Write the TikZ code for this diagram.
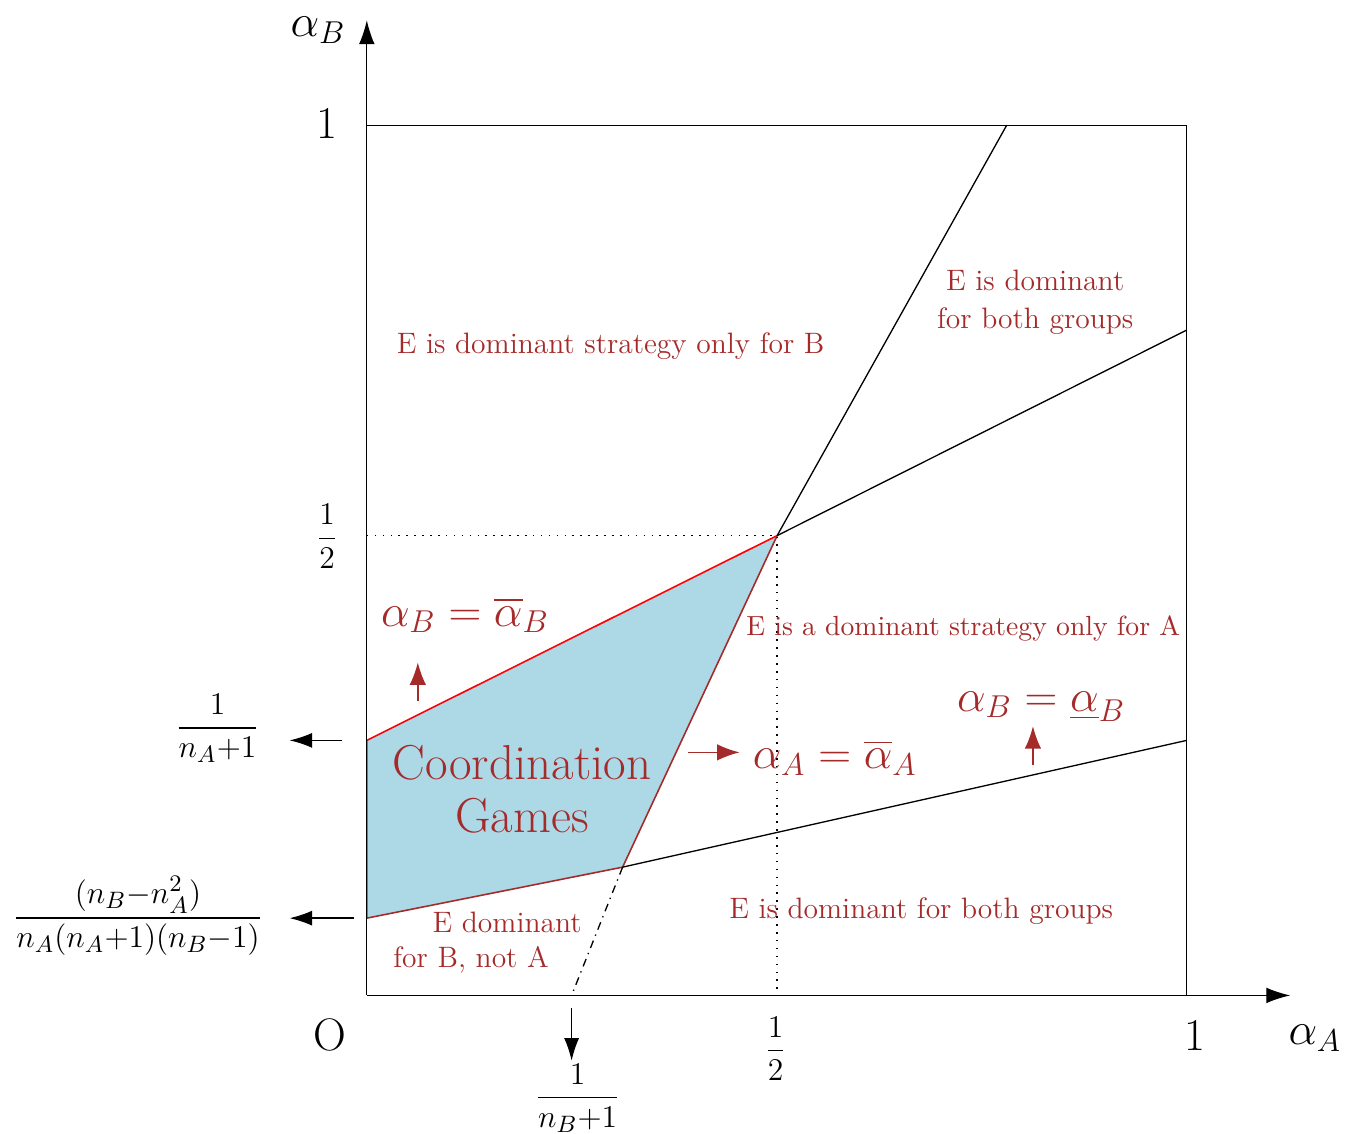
\documentclass[tikz,border=0pt]{standalone}
\usepackage{amsmath,amssymb}
\usetikzlibrary{arrows.meta}
\definecolor{cgR}{RGB}{165,42,42}
\definecolor{cgF}{RGB}{173,216,230}

\begin{document}
\begin{tikzpicture}[
    ln/.style={draw=black, line width=0.5pt},
    ax/.style={draw=black, line width=0.5pt, -{Latex[length=3.2mm,width=2.1mm]}},
    tip/.style={draw=black, line width=0.5pt, -{Latex[length=3mm,width=2mm]}},
    rtip/.style={draw=cgR, line width=0.6pt, -{Latex[length=3mm,width=2.2mm]}},
    guide/.style={draw=black, line width=0.6pt, dash pattern=on 0.6pt off 2.4pt},
    dd/.style={draw=black, line width=0.5pt, dash dot},
    big/.style={font=\LARGE},
    frc/.style={font=\fontsize{12.7}{15}\selectfont},
    reg/.style={text=cgR, font=\fontsize{11.2}{14.2}\selectfont, align=center},
    eqn/.style={text=cgR, font=\LARGE},
  ]
  \useasboundingbox (-4.89,-1.84) rectangle (13.04,13.27);

  % corner points of the regions
  \coordinate (O)  at (0,0);
  \coordinate (M)  at (5.47,6.13);
  \coordinate (My) at (0,6.13);
  \coordinate (Mx) at (5.47,0);
  \coordinate (T)  at (8.53,11.6);
  \coordinate (R)  at (10.93,8.87);
  \coordinate (P1) at (0,3.40);
  \coordinate (P2) at (0,1.03);
  \coordinate (Q)  at (3.41,1.71);
  \coordinate (R2) at (10.93,3.40);
  \coordinate (X1) at (2.73,0);
  \coordinate (TL) at (0,11.6);
  \coordinate (TR) at (10.93,11.6);
  \coordinate (BR) at (10.93,0);
  \coordinate (xend) at (12.31,0);
  \coordinate (yend) at (0,13.0);

  %% coordination region
  \fill[cgF] (P1) -- (M) -- (Q) -- (P2) -- cycle;
  \draw[red, line width=0.6pt] (P1) -- (M);
  \draw[cgR, line width=0.6pt] (M) -- (Q) -- (P2) -- (P1);

  %% guides, box, borders
  \draw[guide] (My) -- (M) -- (Mx);
  \draw[ln] (TL) -- (TR) -- (BR);
  \draw[ln] (M) -- (T);
  \draw[ln] (M) -- (R);
  \draw[ln] (Q) -- (R2);
  \draw[dd] (Q) -- (X1);

  %% axes
  \draw[ax] (O) -- (xend);
  \draw[ax] (O) -- (yend);

  %% axis labels
  \node[big] (aB) at (-0.65,12.87) {$\alpha_B$};
  \node[big] (aA) at (12.64,-0.57) {$\alpha_A$};
  \node[big] (one1) at (-0.53,11.63) {1};
  \node[big] (one2) at (11.04,-0.53) {1};
  \node[big] (orig) at (-0.49,-0.53) {O};
  \node[frc] (hy) at (-0.53,6.12) {$\dfrac{1}{2}$};
  \node[frc] (hx) at (5.45,-0.71) {$\dfrac{1}{2}$};

  %% threshold labels with arrows
  \node[frc] (fA) at (-1.99,3.56) {$\dfrac{1}{n_A{+}1}$};
  \node[frc] (fAB) at (-3.05,1.06) {$\dfrac{(n_B{-}n_A^2)}{n_A(n_A{+}1)(n_B{-}1)}$};
  \node[frc] (fB) at (2.81,-1.37) {$\dfrac{1}{n_B{+}1}$};
  \coordinate (a1s) at (-0.33,3.40); \coordinate (a1e) at (-1.03,3.40);
  \coordinate (a2s) at (-0.17,1.03); \coordinate (a2e) at (-1.03,1.03);
  \coordinate (a3s) at (2.73,-0.17); \coordinate (a3e) at (2.73,-0.87);
  \draw[tip] (a1s) -- (a1e);
  \draw[tip] (a2s) -- (a2e);
  \draw[tip] (a3s) -- (a3e);

  %% region texts
  \node[reg] (rB) at (3.25,8.65) {E is dominant strategy only for B};
  \node[reg] (rAB1) at (8.91,9.24) {E is dominant\\for both groups};
  \node[reg, font=\fontsize{10.5}{13}\selectfont] (rA) at (7.95,4.89) {E is a dominant strategy only for A};
  \node[reg] (rAB2) at (7.39,1.13) {E is dominant for both groups};
  \node[reg] (rBn1) at (1.87,0.97) {E dominant};
  \node[reg] (rBn2) at (1.39,0.47) {for B, not A};
  \node[text=cgR, font=\fontsize{18.6}{20}\selectfont, align=center] (cg) at (2.07,2.75) {Coordination\\Games};

  %% boundary equations
  \node[eqn] (eB1) at (1.31,5.07) {$\alpha_B = \overline{\alpha}_B$};
  \node[eqn] (eA)  at (6.24,3.17) {$\alpha_A = \overline{\alpha}_A$};
  \node[eqn] (eB2) at (8.99,3.85) {$\alpha_B = \underline{\alpha}_B$};
  \coordinate (u1s) at (0.68,3.93); \coordinate (u1e) at (0.68,4.44);
  \coordinate (r1s) at (4.28,3.24); \coordinate (r1e) at (4.97,3.24);
  \coordinate (u2s) at (8.88,3.07); \coordinate (u2e) at (8.88,3.59);
  \draw[rtip] (u1s) -- (u1e);
  \draw[rtip] (r1s) -- (r1e);
  \draw[rtip] (u2s) -- (u2e);
\end{tikzpicture}
\end{document}
